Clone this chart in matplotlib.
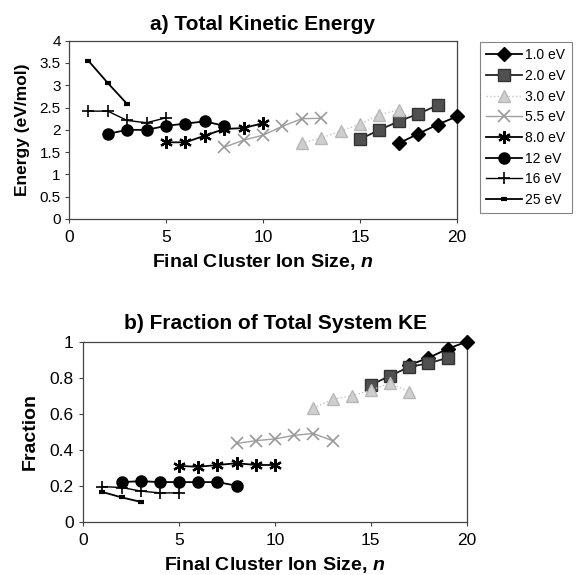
import matplotlib
matplotlib.use("Agg")
import matplotlib.pyplot as plt

plt.rcParams['font.family'] = ['Liberation Sans', 'DejaVu Sans']
plt.rcParams['mathtext.fontset'] = 'custom'
plt.rcParams['mathtext.bfit'] = 'Liberation Sans:bold:italic'

labels = ["1.0 eV", "2.0 eV", "3.0 eV", "5.5 eV", "8.0 eV", "12 eV", "16 eV", "25 eV"]

n_10 = [17, 18, 19, 20]
n_20 = [15, 16, 17, 18, 19]
n_30 = [12, 13, 14, 15, 16, 17]
n_55 = [8, 9, 10, 11, 12, 13]
n_80 = [5, 6, 7, 8, 9, 10]
n_12 = [2, 3, 4, 5, 6, 7, 8]
n_16 = [1, 2, 3, 4, 5]
n_25 = [1, 2, 3]

ke_10 = [1.70, 1.91, 2.12, 2.30]
ke_20 = [1.79, 2.00, 2.19, 2.36, 2.55]
ke_30 = [1.70, 1.82, 1.97, 2.13, 2.34, 2.45]
ke_55 = [1.61, 1.77, 1.88, 2.08, 2.25, 2.26]
ke_80 = [1.72, 1.72, 1.87, 2.02, 2.04, 2.15]
ke_12 = [1.91, 2.00, 2.00, 2.09, 2.14, 2.19, 2.09]
ke_16 = [2.42, 2.42, 2.21, 2.16, 2.27]
ke_25 = [3.55, 3.05, 2.58]

fr_10 = [0.87, 0.91, 0.96, 1.00]
fr_20 = [0.76, 0.81, 0.86, 0.88, 0.91]
fr_30 = [0.63, 0.68, 0.70, 0.73, 0.77, 0.72]
fr_55 = [0.435, 0.45, 0.46, 0.48, 0.49, 0.45]
fr_80 = [0.31, 0.305, 0.315, 0.325, 0.315, 0.315]
fr_12 = [0.22, 0.225, 0.22, 0.22, 0.22, 0.22, 0.20]
fr_16 = [0.195, 0.19, 0.17, 0.16, 0.16]
fr_25 = [0.165, 0.135, 0.11]

ns = [n_10, n_20, n_30, n_55, n_80, n_12, n_16, n_25]
kes = [ke_10, ke_20, ke_30, ke_55, ke_80, ke_12, ke_16, ke_25]
frs = [fr_10, fr_20, fr_30, fr_55, fr_80, fr_12, fr_16, fr_25]

asterisk = (6, 2, 0)
styles = [
    dict(color='black', marker='D', ms=7, lw=1.3, ls='-', mfc='black', mec='black'),
    dict(color='#222222', marker='s', ms=9, lw=1.3, ls='-', mfc='#505050', mec='#333333'),
    dict(color='#c4c4c4', marker='^', ms=8, lw=1.0, ls=':', mfc='#cfcfcf', mec='#b8b8b8'),
    dict(color='#a0a0a0', marker='x', ms=8, lw=1.0, ls='-', mfc='#999999', mec='#999999', mew=1.2),
    dict(color='black', marker=asterisk, ms=9, lw=1.3, ls='-', mfc='black', mec='black', mew=1.6),
    dict(color='black', marker='o', ms=8, lw=1.3, ls='-', mfc='black', mec='black'),
    dict(color='black', marker='+', ms=9, lw=1.0, ls='-', mfc='black', mec='black', mew=1.2),
    dict(color='black', marker='_', ms=5, lw=1.3, ls='-', mfc='black', mec='black', mew=3),
]

fig = plt.figure(figsize=(5.79, 5.75), dpi=100)
ax1 = fig.add_axes([69/579, 1-219/575, 388/579, 178.3/575])
ax2 = fig.add_axes([83.3/579, 1-521.7/575, 383.4/579, 180/575])

handles = []
for n, ke, fr, st, lab in zip(ns, kes, frs, styles, labels):
    h, = ax1.plot(n, ke, label=lab, clip_on=False, zorder=3, **st)
    ax2.plot(n, fr, clip_on=False, zorder=3, **st)
    handles.append(h)

for ax in (ax1, ax2):
    ax.set_xlim(0, 20)
    ax.set_xticks([0, 5, 10, 15, 20])
    for s in ax.spines.values():
        s.set_color('#444444')
        s.set_linewidth(0.9)
    ax.tick_params(direction='out', length=3, width=0.8, colors='#444444',
                   labelcolor='black', labelsize=12.5, pad=5)
    ax.set_xlabel('Final Cluster Ion Size, $\\boldsymbol{n}$', fontsize=14,
                  fontweight='bold', labelpad=5)

ax1.set_ylim(0, 4)
ax1.set_yticks([0, 0.5, 1, 1.5, 2, 2.5, 3, 3.5, 4])
ax1.set_yticklabels(['0', '0.5', '1', '1.5', '2', '2.5', '3', '3.5', '4'])
ax1.tick_params(axis='y', labelsize=11, pad=3)
ax1.set_ylabel('Energy (eV/mol)', fontsize=12.5, fontweight='bold', labelpad=7)
ax1.set_title('a) Total Kinetic Energy', fontsize=15, fontweight='bold', pad=8)

ax2.set_ylim(0, 1)
ax2.set_yticks([0, 0.2, 0.4, 0.6, 0.8, 1.0])
ax2.set_yticklabels(['0', '0.2', '0.4', '0.6', '0.8', '1'])
ax2.tick_params(axis='y', pad=4)
ax2.set_ylabel('Fraction', fontsize=14, fontweight='bold', labelpad=8)
ax2.set_title('b) Fraction of Total System KE', fontsize=15, fontweight='bold', pad=9)

leg = fig.legend(handles=handles, loc='upper left',
                 bbox_to_anchor=(480/579, 1-42/575), fontsize=10,
                 frameon=True, fancybox=False, borderpad=0.45,
                 labelspacing=0.48, handlelength=2.6, handletextpad=0.2,
                 borderaxespad=0)
leg.get_frame().set_edgecolor('#666666')
leg.get_frame().set_linewidth(0.8)

fig.savefig('out.png', dpi=100)
